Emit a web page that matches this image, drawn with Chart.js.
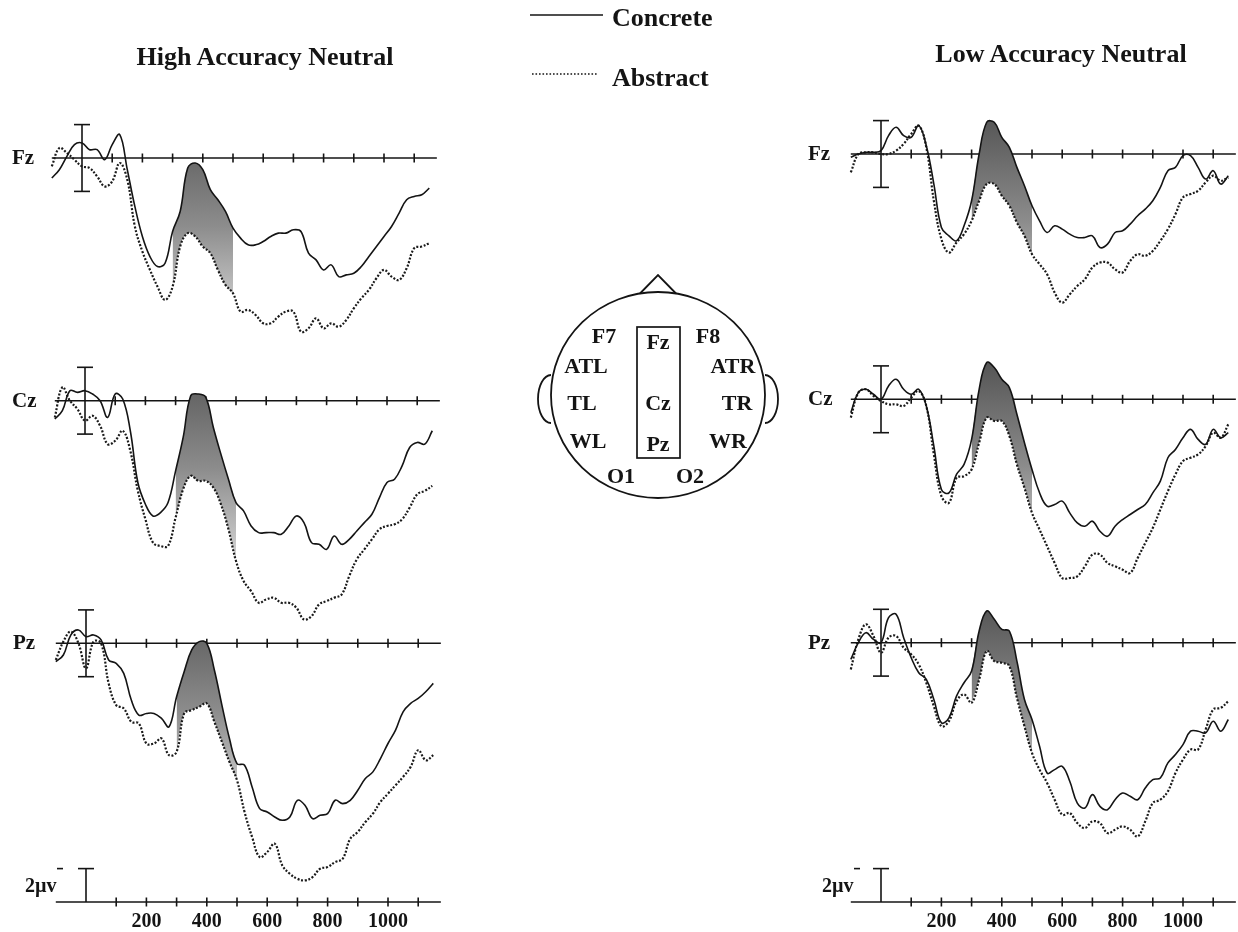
<!DOCTYPE html>
<html>
<head>
<meta charset="utf-8">
<title>Concrete vs Abstract ERPs - High and Low Accuracy Neutral</title>
<script src="https://cdn.jsdelivr.net/npm/chart.js@4.4.1/dist/chart.umd.min.js"></script>
<style>
    html, body { margin: 0; padding: 0; background: #fff; }
    #wrap { position: relative; width: 1238px; height: 932px; overflow: hidden; }
    #erp { position: absolute; left: 0; top: 0; }
    .lbl {
        position: absolute;
        font-family: "Liberation Serif", "Times New Roman", serif;
        font-weight: bold;
        color: #141414;
        white-space: nowrap;
        line-height: 1;
        transform: translate(-50%, -50%);
    }
    .lbl.left { transform: translate(0, -50%); }
</style>
</head>
<body>
<div id="wrap">
    <canvas id="erp" width="1238" height="932"></canvas>
</div>
<script>
// sample times in ms, shared by every waveform
var times = [-100, -75, -50, -25, 0, 25, 50, 75, 100, 125, 150, 175, 200, 225, 250, 275, 300, 325, 350, 375,
    400, 425, 450, 475, 500, 525, 550, 575, 600, 625, 650, 675, 700, 725, 750, 775, 800, 825, 850, 875,
    900, 925, 950, 975, 1000, 1025, 1050, 1075, 1100, 1125, 1150];

// amplitudes in microvolts (negative plotted up)
var highFzConcrete = [1.2, 0.7, -0.1, -0.8, -0.9, -0.5, -0.5, 0.1, -0.8, -1.4, 0.7, 2.9, 4.7, 5.9, 6.5, 6.3, 4.4, 3.2, 0.6, 0.3,
    0.7, 1.9, 2.5, 3.2, 4.2, 4.8, 5.2, 5.2, 5.0, 4.7, 4.5, 4.5, 4.3, 4.4, 5.7, 6.1, 6.7, 6.4, 7.1, 7.0,
    6.9, 6.5, 5.9, 5.3, 4.7, 4.1, 3.3, 2.5, 2.3, 2.2, 1.8];
var highFzAbstract = [0.5, -0.6, -0.3, 0.1, 0.5, 0.6, 1.1, 1.7, 1.4, 0.3, 1.3, 4.1, 5.6, 6.7, 7.7, 8.5, 7.7, 5.3, 4.5, 4.7,
    5.3, 5.7, 6.7, 7.6, 8.1, 9.2, 9.1, 9.4, 9.9, 9.9, 9.5, 9.2, 9.2, 10.4, 10.2, 9.6, 10.2, 9.9, 10.1, 9.7,
    9.0, 8.4, 7.9, 7.2, 6.7, 7.1, 7.3, 6.6, 5.4, 5.3, 5.1];
var highCzConcrete = [1.1, 0.6, -0.6, -0.5, -0.6, -0.4, 0.0, 1.0, -0.4, -0.1, 1.8, 4.9, 6.2, 6.9, 6.7, 6.1, 4.2, 2.2, -0.3, -0.4,
    -0.2, 1.6, 3.2, 4.7, 6.1, 6.6, 7.5, 7.9, 7.9, 7.9, 8.0, 7.5, 6.9, 7.3, 8.5, 8.6, 8.9, 8.1, 8.6, 8.3,
    7.8, 7.3, 6.8, 5.8, 4.9, 4.7, 3.9, 2.8, 2.5, 2.6, 1.8];
var highCzAbstract = [1.0, -0.8, 0.0, 0.5, 1.2, 0.9, 1.5, 2.6, 2.4, 1.8, 3.0, 5.4, 7.1, 8.5, 8.7, 8.7, 7.0, 5.3, 4.5, 4.8,
    4.8, 5.2, 6.2, 7.7, 9.6, 10.8, 11.4, 12.1, 11.9, 11.8, 12.1, 12.1, 12.4, 13.1, 12.9, 12.2, 12.0, 11.8, 11.6, 10.5,
    9.5, 8.9, 8.3, 7.7, 7.5, 7.4, 7.1, 6.4, 5.6, 5.4, 5.1];
var highPzConcrete = [1.1, 0.7, -0.5, -0.8, -0.4, -0.5, -0.2, 1.0, 1.2, 1.8, 3.4, 4.3, 4.2, 4.2, 4.5, 5.0, 3.2, 1.7, 0.4, -0.1,
    0.0, 1.6, 3.7, 5.7, 7.2, 7.3, 8.6, 9.9, 10.1, 10.4, 10.6, 10.4, 9.4, 9.7, 10.5, 10.3, 10.2, 9.4, 9.6, 9.4,
    8.8, 8.1, 7.7, 6.9, 6.0, 5.2, 4.1, 3.6, 3.3, 2.9, 2.4];
var highPzAbstract = [1.0, -0.1, -0.7, 0.0, 1.5, -0.1, 0.0, 2.4, 3.7, 3.9, 4.7, 4.8, 6.0, 6.0, 5.7, 6.7, 6.5, 4.2, 4.0, 3.8,
    3.6, 4.7, 5.9, 7.1, 8.2, 10.1, 11.6, 12.8, 12.5, 12.0, 13.3, 13.8, 14.1, 14.2, 14.0, 13.5, 13.4, 13.1, 12.9, 11.7,
    11.3, 10.7, 10.2, 9.5, 9.0, 8.5, 8.0, 7.4, 6.4, 7.0, 6.7];

var lowFzConcrete = [0.2, 0.0, -0.1, -0.1, -0.2, -1.1, -1.6, -1.1, -1.0, -1.7, -0.5, 1.8, 4.4, 4.9, 5.2, 4.3, 2.8, 0.0, -1.9, -1.9,
    -1.0, -0.4, 0.8, 1.9, 3.1, 4.0, 4.7, 4.3, 4.5, 4.8, 5.0, 5.0, 4.9, 5.6, 5.4, 4.7, 4.6, 4.2, 3.7, 3.3,
    2.8, 2.0, 1.0, 0.8, 0.1, 0.1, 0.8, 1.5, 1.0, 1.8, 1.3];
var lowFzAbstract = [1.1, 0.0, -0.1, -0.1, 0.0, 0.0, -0.2, -0.6, -1.2, -1.7, -0.4, 2.8, 5.1, 5.9, 5.3, 4.8, 4.0, 2.8, 1.8, 1.8,
    2.5, 3.1, 4.1, 4.9, 6.0, 6.6, 7.2, 8.3, 8.9, 8.4, 7.9, 7.5, 6.8, 6.5, 6.5, 6.9, 7.1, 6.4, 6.0, 6.1,
    5.8, 5.2, 4.5, 3.6, 2.6, 2.4, 2.2, 1.7, 1.3, 1.6, 1.4];
var lowCzConcrete = [0.8, -0.4, -0.6, -0.3, 0.0, -0.8, -1.2, -0.6, -0.3, -0.6, 0.4, 2.8, 5.4, 5.6, 4.5, 3.9, 2.4, -0.6, -2.2, -1.9,
    -1.2, -0.7, 0.9, 2.6, 4.2, 5.6, 6.4, 6.3, 6.1, 6.8, 7.4, 7.6, 7.3, 7.9, 8.2, 7.6, 7.2, 6.9, 6.6, 6.3,
    5.6, 4.9, 3.5, 3.0, 2.3, 1.8, 2.4, 2.7, 1.8, 2.3, 2.0];
var lowCzAbstract = [1.1, -0.4, -0.6, -0.2, 0.1, 0.3, 0.3, 0.4, -0.1, -0.5, 0.4, 3.3, 5.8, 6.2, 4.7, 4.6, 4.2, 2.6, 1.1, 1.3,
    1.3, 2.2, 3.9, 5.3, 6.8, 7.8, 8.8, 9.8, 10.7, 10.7, 10.6, 10.0, 9.3, 9.3, 9.8, 10.0, 10.2, 10.4, 9.5, 8.6,
    7.7, 6.6, 5.5, 4.5, 3.7, 3.5, 3.3, 2.8, 2.0, 2.3, 1.5];
var lowPzConcrete = [1.0, 0.0, -0.6, -0.2, 0.0, -1.5, -1.7, -0.3, 0.9, 1.8, 2.2, 3.4, 4.8, 4.5, 3.2, 2.4, 1.7, -0.7, -1.9, -1.4,
    -0.8, -0.7, 1.1, 3.4, 4.6, 6.2, 7.8, 7.6, 7.4, 8.3, 9.6, 9.9, 9.1, 9.8, 10.0, 9.4, 9.0, 9.2, 9.4, 8.7,
    8.2, 8.1, 7.2, 6.7, 6.1, 5.3, 5.3, 5.4, 4.7, 5.3, 4.6];
var lowPzAbstract = [1.6, -0.2, -1.1, -0.4, 0.6, -0.3, -0.4, 0.3, 0.7, 1.3, 2.4, 3.8, 5.0, 4.7, 3.5, 3.1, 3.6, 2.2, 0.5, 1.1,
    1.2, 1.4, 3.3, 5.0, 6.6, 7.6, 8.4, 9.4, 10.3, 10.2, 10.8, 11.1, 10.7, 10.8, 11.4, 11.2, 11.0, 11.2, 11.6, 10.7,
    9.6, 9.4, 8.9, 7.8, 7.0, 6.4, 6.4, 5.2, 4.0, 3.9, 3.5];

var channels = ["Fz", "Cz", "Pz"];
var conditions = ["High Accuracy Neutral", "Low Accuracy Neutral"];
var seriesNames = ["Concrete", "Abstract"];
var axisTicks = [100, 200, 300, 400, 500, 600, 700, 800, 900, 1000, 1100];
var tickLabels = [200, 400, 600, 800, 1000];
var shadeFrom = 300, shadeTo = 500;   // ms window that is shaded
var calibUv = 2;

// page geometry (pixels)
var W = 1238, H = 932;
var PX_PER_MS = 0.302, PX_PER_UV = 16.7;
var axisFrom = -100, axisTo = 1175;
var bottomAxisY = 902;

var panels = [
    { c: highFzConcrete, a: highFzAbstract, ch: 0, zeroX: 82, baseY: 158, labelX: 12 },
    { c: highCzConcrete, a: highCzAbstract, ch: 1, zeroX: 85, baseY: 400.7, labelX: 12 },
    { c: highPzConcrete, a: highPzAbstract, ch: 2, zeroX: 86, baseY: 643.3, labelX: 13 },
    { c: lowFzConcrete, a: lowFzAbstract, ch: 0, zeroX: 881, baseY: 154, labelX: 808 },
    { c: lowCzConcrete, a: lowCzAbstract, ch: 1, zeroX: 881, baseY: 399.3, labelX: 808 },
    { c: lowPzConcrete, a: lowPzAbstract, ch: 2, zeroX: 881, baseY: 642.7, labelX: 808 }
];
// the bottom time axis of each column reuses that column's Pz scale
var bottomAxes = [{ panel: 2, labelX: 25 }, { panel: 5, labelX: 822 }];

var head = { cx: 658, cy: 395, rx: 107, ry: 103 };
var headLabels = [
    ["F7", 604, 336], ["Fz", 658, 342], ["F8", 708, 336],
    ["ATL", 586, 366], ["ATR", 733, 366],
    ["TL", 582, 403], ["Cz", 658, 403], ["TR", 737, 403],
    ["WL", 588, 441], ["Pz", 658, 444], ["WR", 728, 441],
    ["O1", 621, 476], ["O2", 690, 476]
];

function points(values, from, to) {
    var out = [];
    for (var i = 0; i < times.length; i++) {
        if (times[i] >= from && times[i] <= to) {
            out.push({ x: times[i], y: values[i] });
        }
    }
    return out;
}

function shadeFill(panelIndex) {
    return function (context) {
        var chart = context.chart;
        var ys = chart.scales["y" + panelIndex];
        var y1 = ys ? ys.getPixelForValue(-2) : NaN;
        var y2 = ys ? ys.getPixelForValue(9) : NaN;
        if (!isFinite(y1) || !isFinite(y2)) {
            return "#888";
        }
        var g = chart.ctx.createLinearGradient(0, y1, 0, y2);
        g.addColorStop(0, "#575757");
        g.addColorStop(0.55, "#8c8c8c");
        g.addColorStop(1, "#cdcdcd");
        return g;
    };
}

var scales = {};
var datasets = [];
panels.forEach(function (p, i) {
    scales["x" + i] = {
        type: "linear", axis: "x", display: false,
        min: -p.zeroX / PX_PER_MS, max: (W - p.zeroX) / PX_PER_MS
    };
    scales["y" + i] = {
        type: "linear", axis: "y", display: false, reverse: true,
        min: -p.baseY / PX_PER_UV, max: (H - p.baseY) / PX_PER_UV
    };
    var common = { xAxisID: "x" + i, yAxisID: "y" + i, pointRadius: 0, tension: 0.4 };
    datasets.push(Object.assign({
        label: seriesNames[0], data: points(p.c, -1e9, 1e9),
        borderColor: "#141414", borderWidth: 1.6, fill: false, order: 0
    }, common));
    datasets.push(Object.assign({
        label: seriesNames[1], data: points(p.a, -1e9, 1e9),
        borderColor: "#1a1a1a", borderWidth: 2.2, borderDash: [2, 1.7], fill: false, order: 0
    }, common));
    // shaded difference between the two conditions
    datasets.push(Object.assign({
        label: "shade", data: points(p.c, shadeFrom, shadeTo),
        borderColor: "rgba(0,0,0,0)", borderWidth: 0, fill: "+1",
        backgroundColor: shadeFill(i), order: 1
    }, common));
    datasets.push(Object.assign({
        label: "shade-base", data: points(p.a, shadeFrom, shadeTo),
        borderColor: "rgba(0,0,0,0)", borderWidth: 0, fill: false, order: 1
    }, common));
});

function seg(ctx, x1, y1, x2, y2) {
    ctx.beginPath();
    ctx.moveTo(x1, y1);
    ctx.lineTo(x2, y2);
    ctx.stroke();
}

function drawTimeAxis(ctx, xs, y) {
    seg(ctx, xs.getPixelForValue(axisFrom), y, xs.getPixelForValue(axisTo), y);
    axisTicks.forEach(function (t) {
        var x = xs.getPixelForValue(t);
        seg(ctx, x, y - 4.5, x, y + 4.5);
    });
}

function drawHead(ctx) {
    var h = head;
    ctx.lineWidth = 1.8;
    ctx.beginPath();
    ctx.ellipse(h.cx, h.cy, h.rx, h.ry, 0, 0, Math.PI * 2);
    ctx.stroke();
    // nose
    ctx.beginPath();
    ctx.moveTo(h.cx - 18, h.cy - h.ry + 1.5);
    ctx.lineTo(h.cx, h.cy - h.ry - 17);
    ctx.lineTo(h.cx + 18, h.cy - h.ry + 1.5);
    ctx.stroke();
    // ears
    ctx.beginPath();
    ctx.ellipse(h.cx - h.rx, h.cy + 4, 13, 24, 0, Math.PI / 2, Math.PI * 1.5);
    ctx.stroke();
    ctx.beginPath();
    ctx.ellipse(h.cx + h.rx, h.cy + 4, 13, 24, 0, -Math.PI / 2, Math.PI / 2);
    ctx.stroke();
    // midline electrode box
    ctx.lineWidth = 1.7;
    ctx.strokeRect(637, 327, 43, 131);
}

var erpFrame = {
    id: "erpFrame",
    beforeDatasetsDraw: function (chart) {
        var ctx = chart.ctx;
        ctx.save();
        ctx.strokeStyle = "#141414";
        ctx.lineWidth = 1.6;
        panels.forEach(function (p, i) {
            var xs = chart.scales["x" + i], ys = chart.scales["y" + i];
            drawTimeAxis(ctx, xs, ys.getPixelForValue(0));
            var x0 = xs.getPixelForValue(0);
            var top = ys.getPixelForValue(-calibUv), bot = ys.getPixelForValue(calibUv);
            seg(ctx, x0, top, x0, bot);
            seg(ctx, x0 - 8, top, x0 + 8, top);
            seg(ctx, x0 - 8, bot, x0 + 8, bot);
        });
        bottomAxes.forEach(function (b) {
            var xs = chart.scales["x" + b.panel], ys = chart.scales["y" + b.panel];
            drawTimeAxis(ctx, xs, bottomAxisY);
            var x0 = xs.getPixelForValue(0);
            var len = Math.abs(ys.getPixelForValue(calibUv) - ys.getPixelForValue(0));
            seg(ctx, x0, bottomAxisY, x0, bottomAxisY - len);
            seg(ctx, x0 - 8, bottomAxisY - len, x0 + 8, bottomAxisY - len);
            seg(ctx, b.labelX + 32, bottomAxisY - len, b.labelX + 38, bottomAxisY - len);
        });
        drawHead(ctx);
        // legend keys
        ctx.lineWidth = 1.5;
        seg(ctx, 530, 15, 603, 15);
        ctx.setLineDash([1.6, 1.9]);
        seg(ctx, 532, 74, 597, 74);
        ctx.restore();
    }
};

var chart = new Chart(document.getElementById("erp").getContext("2d"), {
    type: "line",
    data: { datasets: datasets },
    options: {
        responsive: false,
        animation: false,
        devicePixelRatio: 1,
        layout: { padding: 0 },
        scales: scales,
        plugins: {
            legend: { display: false },
            tooltip: { enabled: false },
            filler: { propagate: false }
        }
    },
    plugins: [erpFrame]
});

// text, all real html text
var wrap = document.getElementById("wrap");
function addText(text, x, y, size, cls) {
    var el = document.createElement("div");
    el.className = "lbl" + (cls ? " " + cls : "");
    el.textContent = text;
    el.style.left = x + "px";
    el.style.top = y + "px";
    el.style.fontSize = size + "px";
    wrap.appendChild(el);
    return el;
}

addText(conditions[0], 265, 57, 26);
addText(conditions[1], 1061, 54, 26);
addText(seriesNames[0], 612, 18, 26, "left");
addText(seriesNames[1], 612, 78, 26, "left");

panels.forEach(function (p, i) {
    var ys = chart.scales["y" + i];
    addText(channels[p.ch], p.labelX, ys.getPixelForValue(0) - 1, 21, "left");
});
bottomAxes.forEach(function (b) {
    var xs = chart.scales["x" + b.panel];
    addText("2\u00b5v", b.labelX, 885, 20, "left");
    tickLabels.forEach(function (t) {
        addText(String(t), xs.getPixelForValue(t), 920, 20);
    });
});
headLabels.forEach(function (h) {
    addText(h[0], h[1], h[2], 22);
});
</script>
</body>
</html>
